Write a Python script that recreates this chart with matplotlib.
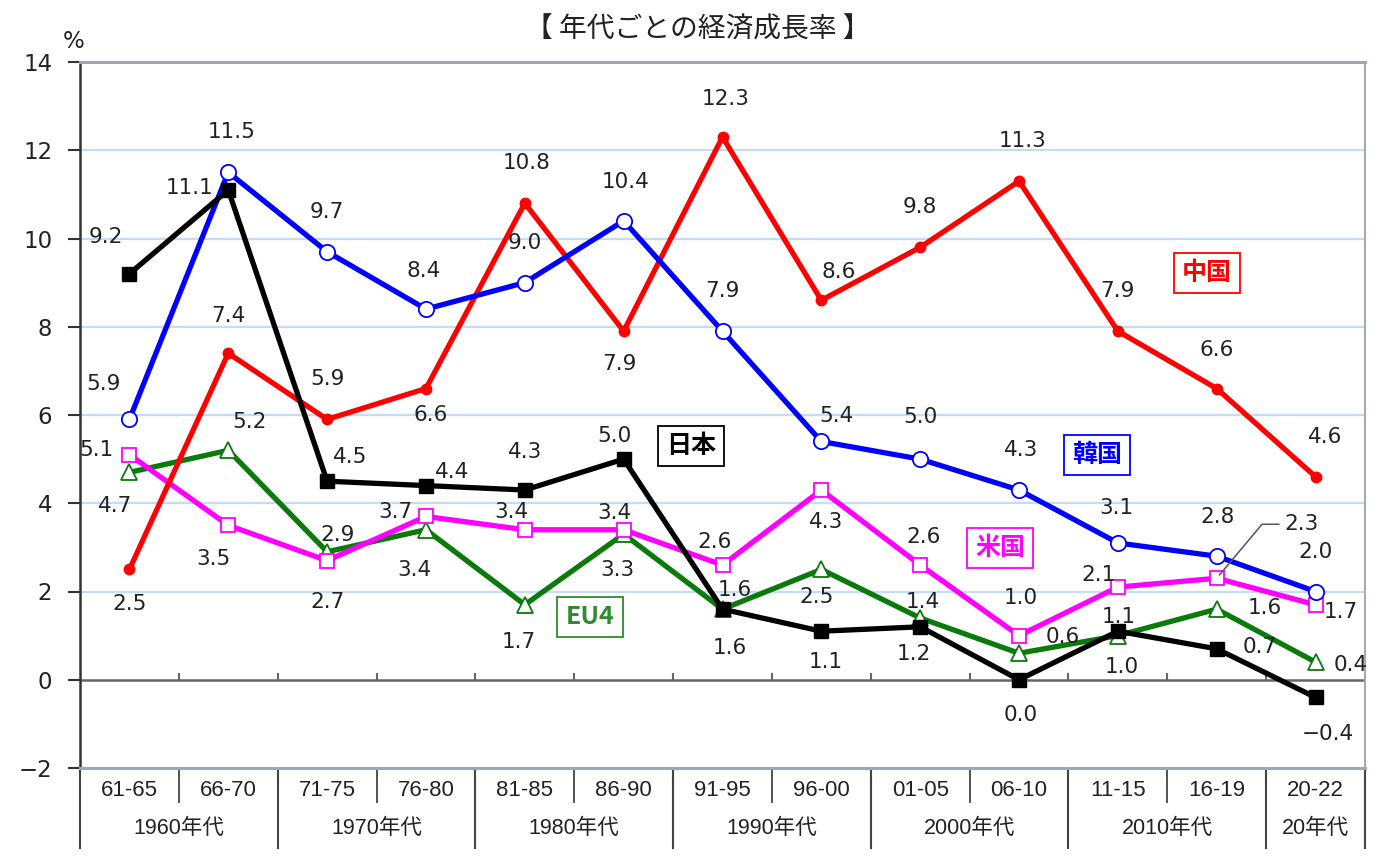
import matplotlib
matplotlib.use("Agg")
import matplotlib.pyplot as plt

plt.rcParams['font.family'] = ['DejaVu Sans', 'Noto Sans CJK JP']

periods = ["61-65", "66-70", "71-75", "76-80", "81-85", "86-90", "91-95",
           "96-00", "01-05", "06-10", "11-15", "16-19", "20-22"]
decades = ["1960年代", "1970年代", "1980年代", "1990年代", "2000年代", "2010年代", "20年代"]
decade_sizes = [2, 2, 2, 2, 2, 2, 1]

china = [2.5, 7.4, 5.9, 6.6, 10.8, 7.9, 12.3, 8.6, 9.8, 11.3, 7.9, 6.6, 4.6]
korea = [5.9, 11.5, 9.7, 8.4, 9.0, 10.4, 7.9, 5.4, 5.0, 4.3, 3.1, 2.8, 2.0]
japan = [9.2, 11.1, 4.5, 4.4, 4.3, 5.0, 1.6, 1.1, 1.2, 0.0, 1.1, 0.7, -0.4]
usa = [5.1, 3.5, 2.7, 3.7, 3.4, 3.4, 2.6, 4.3, 2.6, 1.0, 2.1, 2.3, 1.7]
eu4 = [4.7, 5.2, 2.9, 3.4, 1.7, 3.3, 1.6, 2.5, 1.4, 0.6, 1.0, 1.6, 0.4]

title = "【 年代ごとの経済成長率 】"
yticks = [-2, 0, 2, 4, 6, 8, 10, 12, 14]

# label offsets in pixels (style only)
off_china = [(0, -35), (0, 37), (0, 40), (5, -26), (2, 40), (-4, -33), (3, 38),
             (17, 28), (0, 40), (4, 40), (0, 40), (0, 39), (10, 40)]
off_korea = [(-26, 35), (3, 40), (0, 40), (-2, 38), (0, 40), (2, 39), (0, 40),
             (15, 25), (0, 42), (2, 40), (-2, 35), (1, 39), (0, 39)]
off_japan = [(-24, 37), (-39, 2), (23, 24), (26, 14), (0, 38), (-9, 23), (7, -39),
             (4, -31), (-6, -27), (2, -35), (1, 14), (43, 2), (12, -37)]
off_usa = [(-33, 5), (-15, -34), (0, -41), (-31, 4), (-13, 18), (-9, 17), (-8, 23),
           (5, -32), (3, 28), (2, 38), (-19, 12), (85, 54), (25, -7)]
off_eu4 = [(-14, -34), (21, 28), (10, 17), (-12, -40), (-6, -37), (-6, -36), (12, 19),
           (-5, -28), (3, 16), (44, 16), (4, -31), (48, 1), (35, -3)]

W, H = 1400, 868
fig = plt.figure(figsize=(14, 8.68), dpi=100)
L, R, T, B = 80, 1365, 62, 768
ax = fig.add_axes([L / W, 1 - B / H, (R - L) / W, (B - T) / H])
x = list(range(len(periods)))
ax.set_xlim(-0.5, len(periods) - 0.5)
ax.set_ylim(-2, 14)

LBL = dict(fontsize=15.5, color='#222222')

# grid
for yv in yticks[2:-1]:
    ax.axhline(yv, color='#c6dcf5', lw=1.6, zorder=0)
ax.axhline(0, color='#666666', lw=1.8, zorder=1)
for b in [i + 0.5 for i in range(len(periods) - 1)]:
    ax.plot([b, b], [0, 0.13], color='#666666', lw=1.5, zorder=1)

for s in ['top', 'bottom']:
    ax.spines[s].set_color('#9aa8b8')
    ax.spines[s].set_linewidth(2.2)
ax.spines['right'].set_color('#aaaaaa')
ax.spines['right'].set_linewidth(1.5)
ax.spines['left'].set_color('#333333')
ax.spines['left'].set_linewidth(1.8)

ax.set_yticks(yticks)
ax.set_yticklabels([str(v).replace('-', '\u2212') for v in yticks], fontsize=16.5,
                   color='#222222')
ax.tick_params(axis='y', length=9, width=1.5, color='#333333', pad=11)
ax.set_xticks([])

# series
LW = 3.8
ax.plot(x, eu4, color='#0a7a0a', lw=LW, marker='^', ms=11, mfc='white',
        mec='#0a7a0a', mew=1.3, zorder=3)
ax.plot(x, usa, color='#ff00ff', lw=LW, marker='s', ms=9.5, mfc='white',
        mec='#ff00ff', mew=1.3, zorder=4)
ax.plot(x, china, color='#ff0000', lw=LW, marker='o', ms=7.5, mfc='#ff0000',
        mec='#ff0000', zorder=5)
ax.plot(x, korea, color='#0000ff', lw=LW, marker='o', ms=11, mfc='white',
        mec='#0000ff', mew=1.3, zorder=6)
ax.plot(x, japan, color='#000000', lw=LW, marker='s', ms=10, mfc='#000000',
        mec='#000000', zorder=7)

def labels(vals, offs, leader=None):
    for i, (v, o) in enumerate(zip(vals, offs)):
        kw = {}
        if i == leader:
            kw['arrowprops'] = dict(arrowstyle='-', color='#555555', lw=1.1,
                                    shrinkA=2, shrinkB=3,
                                    connectionstyle='angle,angleA=0,angleB=50,rad=0')
        ax.annotate(f"{v:.1f}".replace('-', '\u2212'), (i, v), xytext=o,
                    textcoords='offset pixels', ha='center', va='center',
                    zorder=10, **LBL, **kw)

labels(china, off_china)
labels(korea, off_korea)
labels(japan, off_japan)
labels(eu4, off_eu4)
labels(usa, off_usa, leader=11)

# series name boxes
def namebox(px, py, text, color):
    fig.text(px / W, 1 - py / H, text, ha='center', va='center', fontsize=18,
             fontweight='bold', color=color, family=['Noto Sans CJK JP', 'DejaVu Sans'],
             bbox=dict(boxstyle='square,pad=0.33', fc='white', ec=color, lw=1.3),
             zorder=12)

namebox(1207, 273, "中国", '#ff0000')
namebox(1097, 455, "韓国", '#0000ff')
namebox(691, 446, "日本", '#000000')
namebox(1000, 548, "米国", '#ff00ff')
namebox(590, 617, "EU4", '#2e8b2e')

# title and unit
fig.text(698 / W, 1 - 30 / H, title, ha='center', va='center', fontsize=20,
         color='#222222', family=['Noto Sans CJK JP'])
fig.text(74 / W, 1 - 42 / H, "%", ha='center', va='center', fontsize=16.5, color='#222222')

# category axis
XL = ['Liberation Sans', 'Noto Sans CJK JP']
tr = ax.get_xaxis_transform()
ah = B - T
for i, p in enumerate(periods):
    ax.text(i, -22 / ah, p, transform=tr, ha='center', va='center', fontsize=16,
            color='#222222', clip_on=False, family=XL)
for b in [i + 0.5 for i in range(len(periods) - 1)]:
    ax.plot([b, b], [0, -34 / ah], transform=tr, color='#444444', lw=1.3, clip_on=False)
start = 0
bounds = [-0.5]
for d, n in zip(decades, decade_sizes):
    c = start + (n - 1) / 2
    ax.text(c, -60 / ah, d, transform=tr, ha='center', va='center', fontsize=15.5,
            color='#222222', clip_on=False, family=XL)
    start += n
    bounds.append(start - 0.5)
for b in bounds:
    ax.plot([b, b], [0, -80 / ah], transform=tr, color='#444444', lw=1.5, clip_on=False)

fig.savefig("out.png", dpi=100, facecolor='white')
